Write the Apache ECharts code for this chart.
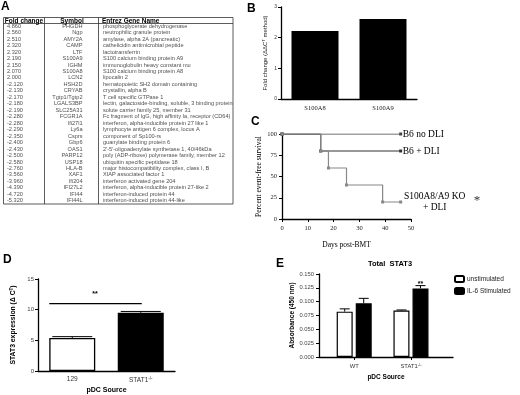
<!DOCTYPE html>
<html>
<head>
<meta charset="utf-8">
<script src="https://cdn.jsdelivr.net/npm/echarts@6/dist/echarts.min.js"></script>
<style>
html, body { margin: 0; padding: 0; background: #fff; }
#main { width: 520px; height: 395px; }
</style>
</head>
<body>
<div id="main"></div>
<script>
// A: microarray table
var foldChange = ['4.860', '2.560', '2.510', '2.320', '2.320', '2.190', '2.150', '2.070', '2.000',
  '-2.120', '-2.130', '-2.170', '-2.180', '-2.190', '-2.280', '-2.280', '-2.290', '-2.350', '-2.400',
  '-2.430', '-2.500', '-2.580', '-2.760', '-3.560', '-3.960', '-4.390', '-4.720', '-5.320'];
var geneSymbol = ['PHGDH', 'Ngp', 'AMY2A', 'CAMP', 'LTF', 'S100A9', 'IGHM', 'S100A8', 'LCN2',
  'HSH2D', 'CRYAB', 'Tgtp1/Tgtp2', 'LGALS3BP', 'SLC25A31', 'FCGR1A', 'Ifi27l1', 'Ly6a', 'Csprs', 'Gbp6',
  'OAS1', 'PARP12', 'USP18', 'HLA-B', 'XAF1', 'Ifi204', 'IFI27L2', 'IFI44', 'IFI44L'];
var geneName = ['phosphoglycerate dehydrogenase', 'neutrophilic granule protein',
  'amylase, alpha 2A (pancreatic)', 'cathelicidin antimicrobial peptide', 'lactotransferrin',
  'S100 calcium binding protein A9', 'immunoglobulin heavy constant mu', 'S100 calcium binding protein A8',
  'lipocalin 2', 'hematopoietic SH2 domain containing', 'crystallin, alpha B', 'T cell specific GTPase 1',
  'lectin, galactoside-binding, soluble, 3 binding protein', 'solute carrier family 25, member 31',
  'Fc fragment of IgG, high affinity Ia, receptor (CD64)', 'interferon, alpha-inducible protein 27 like 1',
  'lymphocyte antigen 6 complex, locus A', 'component of Sp100-rs', 'guanylate binding protein 6',
  "2'-5'-oligoadenylate synthetase 1, 40/46kDa", 'poly (ADP-ribose) polymerase family, member 12',
  'ubiquitin specific peptidase 18', 'major histocompatibility complex, class I, B', 'XIAP associated factor 1',
  'interferon activated gene 204', 'interferon, alpha-inducible protein 27-like 2',
  'interferon-induced protein 44', 'interferon-induced protein 44-like'];

// B: qPCR fold change
var qpcrGenes = ['S100A8', 'S100A9'];
var qpcrFold = [2.22, 2.61];

// C: event-free survival
var survNoDli = [[0, 100], [46, 100]];
var survDli = [[0, 100], [15, 80], [46, 80]];
var survKo = [[0, 100], [15, 80], [18, 60], [25, 40], [39, 20], [46, 20]];

// D: STAT3 expression
var dSources = ['129', 'STAT1-/-'];
var dMean = [5.4, 9.49];
var dErr = [0.2, 0.22];
var dSigLevel = 11.0;

// E: total STAT3
var eSources = ['WT', 'STAT1-/-'];
var eUnstim = [0.082, 0.084];
var eUnstimErr = [0.005, 0.001];
var eIl6 = [0.097, 0.124];
var eIl6Err = [0.009, 0.005];
var eStars = ['', '**'];

var SANS = 'Liberation Sans';
var SERIF = 'Liberation Serif';

var chart = echarts.init(document.getElementById('main'), null, { renderer: 'canvas' });

function supLabel(v) {
  if (v.indexOf('-/-') > 0) return v.replace('-/-', '') + '{sup|-/-}';
  return v;
}

var axisLine = { onZero: false, lineStyle: { color: '#000', width: 1.3 } };
var yAxisLine = { show: true, onZero: false, lineStyle: { color: '#000', width: 1.3 } };
var axisTick = { length: 3, lineStyle: { color: '#000', width: 1 } };
var yAxisTick = { show: true, length: 3, lineStyle: { color: '#000' } };

function cellSeries(texts, x, pos) {
  return {
    type: 'scatter', xAxisIndex: 0, yAxisIndex: 0, silent: true,
    symbolSize: 1, itemStyle: { color: 'rgba(0,0,0,0)' },
    data: texts.map(function (t, i) { return [x, i, t]; }),
    label: {
      show: true, position: pos, distance: 0,
      formatter: function (p) { return p.data[2]; },
      fontFamily: SANS, fontSize: 5.6, color: '#222'
    }
  };
}

function errorBar(xi, yi, means, errs, offset, half, stars) {
  return {
    type: 'custom', xAxisIndex: xi, yAxisIndex: yi, silent: true, z: 5,
    data: means.map(function (m, i) { return [i, m, errs[i]]; }),
    renderItem: function (params, api) {
      var base = api.coord([api.value(0), api.value(1)]);
      var top = api.coord([api.value(0), api.value(1) + api.value(2)]);
      var x = base[0] + offset;
      var kids = [
        { type: 'line', shape: { x1: x, y1: base[1], x2: x, y2: top[1] }, style: { stroke: '#000', lineWidth: 1 } },
        { type: 'line', shape: { x1: x - half, y1: top[1], x2: x + half, y2: top[1] }, style: { stroke: '#000', lineWidth: 1 } }
      ];
      if (stars && stars[params.dataIndex]) {
        kids.push({ type: 'text', x: x, y: top[1] + 2,
          style: { text: stars[params.dataIndex], fontFamily: SANS, fontSize: 7, fontWeight: 'bold',
            align: 'center', verticalAlign: 'bottom', fill: '#000' } });
      }
      return { type: 'group', children: kids };
    }
  };
}

var option = {
  animation: false,
  textStyle: { fontFamily: SANS },
  title: [
    { text: 'Total  STAT3', left: 385, top: 255, textAlign: 'center',
      textStyle: { fontSize: 7.5, fontWeight: 'bold', color: '#000' } }
  ],
  legend: {
    data: ['unstimulated', 'IL-6 Stimulated'], orient: 'vertical', left: 454, top: 275,
    itemWidth: 9, itemHeight: 6, itemGap: 4, padding: 0,
    textStyle: { fontSize: 6.5, color: '#222', padding: [0, 0, 0, -2] }
  },
  grid: [
    { left: 3, top: 23, width: 230, height: 181, outerBoundsMode: 'none' },
    { left: 281, top: 7, width: 136, height: 92, outerBoundsMode: 'none' },
    { left: 282, top: 134, width: 129, height: 85, outerBoundsMode: 'none' },
    { left: 38, top: 279, width: 137, height: 92, outerBoundsMode: 'none' },
    { left: 319, top: 274, width: 134, height: 83, outerBoundsMode: 'none' }
  ],
  xAxis: [
    { gridIndex: 0, type: 'value', min: 0, max: 230, show: false },
    { gridIndex: 1, type: 'category', data: qpcrGenes, axisLine: axisLine,
      axisTick: { alignWithLabel: true, length: 3, lineStyle: { color: '#000' } },
      axisLabel: { fontFamily: SERIF, fontSize: 6.5, color: '#222', margin: 6 } },
    { gridIndex: 2, type: 'value', min: 0, max: 50, interval: 10, splitLine: { show: false },
      axisLine: axisLine, axisTick: axisTick,
      name: 'Days post-BMT', nameLocation: 'middle', nameGap: 22,
      nameTextStyle: { fontFamily: SERIF, fontSize: 7.5, color: '#000' },
      axisLabel: { fontFamily: SERIF, fontSize: 6.5, color: '#222', margin: 6 } },
    { gridIndex: 3, type: 'category', data: dSources, axisLine: axisLine,
      axisTick: { alignWithLabel: true, length: 3, lineStyle: { color: '#000' } },
      name: 'pDC Source', nameLocation: 'middle', nameGap: 16,
      nameTextStyle: { fontSize: 7, fontWeight: 'bold', color: '#000' },
      axisLabel: { fontSize: 6.5, color: '#333', margin: 5, formatter: supLabel,
        rich: { sup: { fontSize: 4.5, verticalAlign: 'top', padding: [0, 0, 4, 0], color: '#333' } } } },
    { gridIndex: 4, type: 'value', min: -0.62, max: 1.74, splitLine: { show: false },
      axisLine: axisLine,
      axisTick: { length: 3, customValues: [0, 1], lineStyle: { color: '#000' } },
      name: 'pDC Source', nameLocation: 'middle', nameGap: 17,
      nameTextStyle: { fontSize: 6.5, fontWeight: 'bold', color: '#000' },
      axisLabel: { fontSize: 5.8, color: '#333', margin: 6, customValues: [0, 1],
        formatter: function (v) { return supLabel(eSources[Math.round(v)]); },
        rich: { sup: { fontSize: 4, verticalAlign: 'top', padding: [0, 0, 3, 0], color: '#333' } } } }
  ],
  yAxis: [
    { gridIndex: 0, type: 'category', inverse: true, show: false,
      data: geneSymbol.map(function (s, i) { return String(i); }) },
    { gridIndex: 1, type: 'value', min: 0, max: 3, interval: 1, splitLine: { show: false },
      axisLine: yAxisLine, axisTick: yAxisTick,
      name: 'Fold change (ΔΔC{sup|T} method)', nameLocation: 'middle', nameGap: 12,
      nameTextStyle: { fontSize: 6, color: '#222', rich: { sup: { fontSize: 4, verticalAlign: 'top', padding: [0, 0, 3, 0] } } },
      axisLabel: { fontSize: 5, color: '#333', margin: 4 } },
    { gridIndex: 2, type: 'value', min: 0, max: 100, interval: 25, splitLine: { show: false },
      axisLine: yAxisLine, axisTick: yAxisTick,
      name: 'Percent event-free survival', nameLocation: 'middle', nameGap: 18,
      nameTextStyle: { fontFamily: SERIF, fontSize: 7.5, color: '#000' },
      axisLabel: { fontFamily: SERIF, fontSize: 6.5, color: '#222', margin: 5 } },
    { gridIndex: 3, type: 'value', min: 0, max: 15, interval: 5, splitLine: { show: false },
      axisLine: yAxisLine, axisTick: yAxisTick,
      name: 'STAT3 expression (Δ C{sup|T})', nameLocation: 'middle', nameGap: 20,
      nameTextStyle: { fontSize: 6.8, fontWeight: 'bold', color: '#000',
        rich: { sup: { fontSize: 4.5, fontWeight: 'bold', verticalAlign: 'top', padding: [0, 0, 4, 0] } } },
      axisLabel: { fontSize: 6, color: '#444', margin: 4 } },
    { gridIndex: 4, type: 'value', min: 0, max: 0.15, interval: 0.025, splitLine: { show: false },
      axisLine: yAxisLine, axisTick: yAxisTick,
      name: 'Absorbance (450 nm)', nameLocation: 'middle', nameGap: 23,
      nameTextStyle: { fontSize: 6.5, fontWeight: 'bold', color: '#000' },
      axisLabel: { fontSize: 5.8, color: '#444', margin: 5, formatter: function (v) { return v.toFixed(3); } } }
  ],
  series: [
    // A
    cellSeries(foldChange, 3.5, 'right'),
    cellSeries(geneSymbol, 80, 'left'),
    cellSeries(geneName, 99.5, 'right'),
    // B
    { type: 'bar', xAxisIndex: 1, yAxisIndex: 1, data: qpcrFold, barWidth: 47,
      itemStyle: { color: '#000' } },
    // C
    { type: 'line', name: 'B6 no DLI', xAxisIndex: 2, yAxisIndex: 2, step: 'end', data: survNoDli,
      symbol: 'rect', symbolSize: 3, color: '#444', lineStyle: { width: 1.2, color: '#444' },
      endLabel: { show: true, formatter: 'B6 no DLI', fontFamily: SERIF, fontSize: 9.5, color: '#000', distance: 2 } },
    { type: 'line', name: 'B6 + DLI', xAxisIndex: 2, yAxisIndex: 2, step: 'end', data: survDli,
      symbol: 'rect', symbolSize: 3, color: '#333', lineStyle: { width: 1.2, color: '#333' },
      endLabel: { show: true, formatter: 'B6 + DLI', fontFamily: SERIF, fontSize: 9.5, color: '#000', distance: 2 } },
    { type: 'line', name: 'S100A8/A9 KO + DLI', xAxisIndex: 2, yAxisIndex: 2, step: 'end', data: survKo,
      symbol: 'rect', symbolSize: 3, color: '#888', lineStyle: { width: 1.2, color: '#888' }, z: 4,
      endLabel: { show: true, formatter: 'S100A8/A9 KO\n+ DLI', fontFamily: SERIF, fontSize: 9.5,
        color: '#000', align: 'center', lineHeight: 11, distance: 2, offset: [32, 0] } },
    // D
    { type: 'bar', xAxisIndex: 3, yAxisIndex: 3, barWidth: 46,
      data: dMean.map(function (m, i) {
        return i === 0 ? { value: m, itemStyle: { color: '#fff', borderColor: '#000', borderWidth: 1.3 } }
                       : { value: m, itemStyle: { color: '#000' } };
      }) },
    errorBar(3, 3, dMean, dErr, 0, 20, null),
    { type: 'custom', xAxisIndex: 3, yAxisIndex: 3, silent: true, z: 5,
      data: [[0, 1, dSigLevel]],
      renderItem: function (params, api) {
        var a = api.coord([api.value(0), api.value(2)]);
        var b = api.coord([api.value(1), api.value(2)]);
        var x0 = a[0] - 23;
        return { type: 'group', children: [
          { type: 'line', shape: { x1: x0, y1: a[1], x2: b[0] + 1, y2: b[1] }, style: { stroke: '#000', lineWidth: 1.3 } },
          { type: 'text', x: (x0 + b[0]) / 2, y: a[1] - 6,
            style: { text: '**', fontFamily: SANS, fontSize: 7, fontWeight: 'bold', align: 'center', verticalAlign: 'bottom', fill: '#000' } }
        ] };
      } },
    // E
    { type: 'bar', name: 'unstimulated', xAxisIndex: 4, yAxisIndex: 4, barWidth: 16, barGap: '19%',
      data: eUnstim.map(function (v, i) { return [i, v]; }),
      itemStyle: { color: '#fff', borderColor: '#000', borderWidth: 1.2 } },
    { type: 'bar', name: 'IL-6 Stimulated', xAxisIndex: 4, yAxisIndex: 4, barWidth: 16, barGap: '19%',
      data: eIl6.map(function (v, i) { return [i, v]; }),
      itemStyle: { color: '#000', borderColor: '#000', borderWidth: 1.2 } },
    errorBar(4, 4, eUnstim, eUnstimErr, -9.5, 5, null),
    errorBar(4, 4, eIl6, eIl6Err, 9.5, 5, eStars)
  ],
  graphic: [
    // table frame
    { type: 'rect', shape: { x: 3.5, y: 17.5, width: 229.5, height: 186.5 }, style: { fill: 'none', stroke: '#333', lineWidth: 0.8 } },
    { type: 'line', shape: { x1: 3.5, y1: 23.5, x2: 233, y2: 23.5 }, style: { stroke: '#333', lineWidth: 0.8 } },
    { type: 'line', shape: { x1: 44.5, y1: 17.5, x2: 44.5, y2: 204 }, style: { stroke: '#333', lineWidth: 0.8 } },
    { type: 'line', shape: { x1: 98.5, y1: 17.5, x2: 98.5, y2: 204 }, style: { stroke: '#333', lineWidth: 0.8 } },
    { type: 'text', x: 24, y: 20.8, style: { text: 'Fold change', fontFamily: SANS, fontSize: 6.5, fontWeight: 'bold', align: 'center', verticalAlign: 'middle', fill: '#000' } },
    { type: 'text', x: 72, y: 20.8, style: { text: 'Symbol', fontFamily: SANS, fontSize: 6.5, fontWeight: 'bold', align: 'center', verticalAlign: 'middle', fill: '#000' } },
    { type: 'text', x: 102, y: 20.8, style: { text: 'Entrez Gene Name', fontFamily: SANS, fontSize: 6.5, fontWeight: 'bold', align: 'left', verticalAlign: 'middle', fill: '#000' } },
    // panel letters
    { type: 'text', x: 1, y: 1, style: { text: 'A', fontFamily: SANS, fontSize: 12, fontWeight: 'bold', fill: '#000' } },
    { type: 'text', x: 247, y: 3, style: { text: 'B', fontFamily: SANS, fontSize: 12, fontWeight: 'bold', fill: '#000' } },
    { type: 'text', x: 251, y: 116, style: { text: 'C', fontFamily: SANS, fontSize: 12, fontWeight: 'bold', fill: '#000' } },
    { type: 'text', x: 3, y: 254, style: { text: 'D', fontFamily: SANS, fontSize: 12, fontWeight: 'bold', fill: '#000' } },
    { type: 'text', x: 276, y: 258, style: { text: 'E', fontFamily: SANS, fontSize: 12, fontWeight: 'bold', fill: '#000' } },
    // significance for KO survival
    { type: 'text', x: 477, y: 201, style: { text: '*', fontFamily: SERIF, fontSize: 13, align: 'center', verticalAlign: 'middle', fill: '#333' } }
  ]
};

chart.setOption(option);
</script>
</body>
</html>
